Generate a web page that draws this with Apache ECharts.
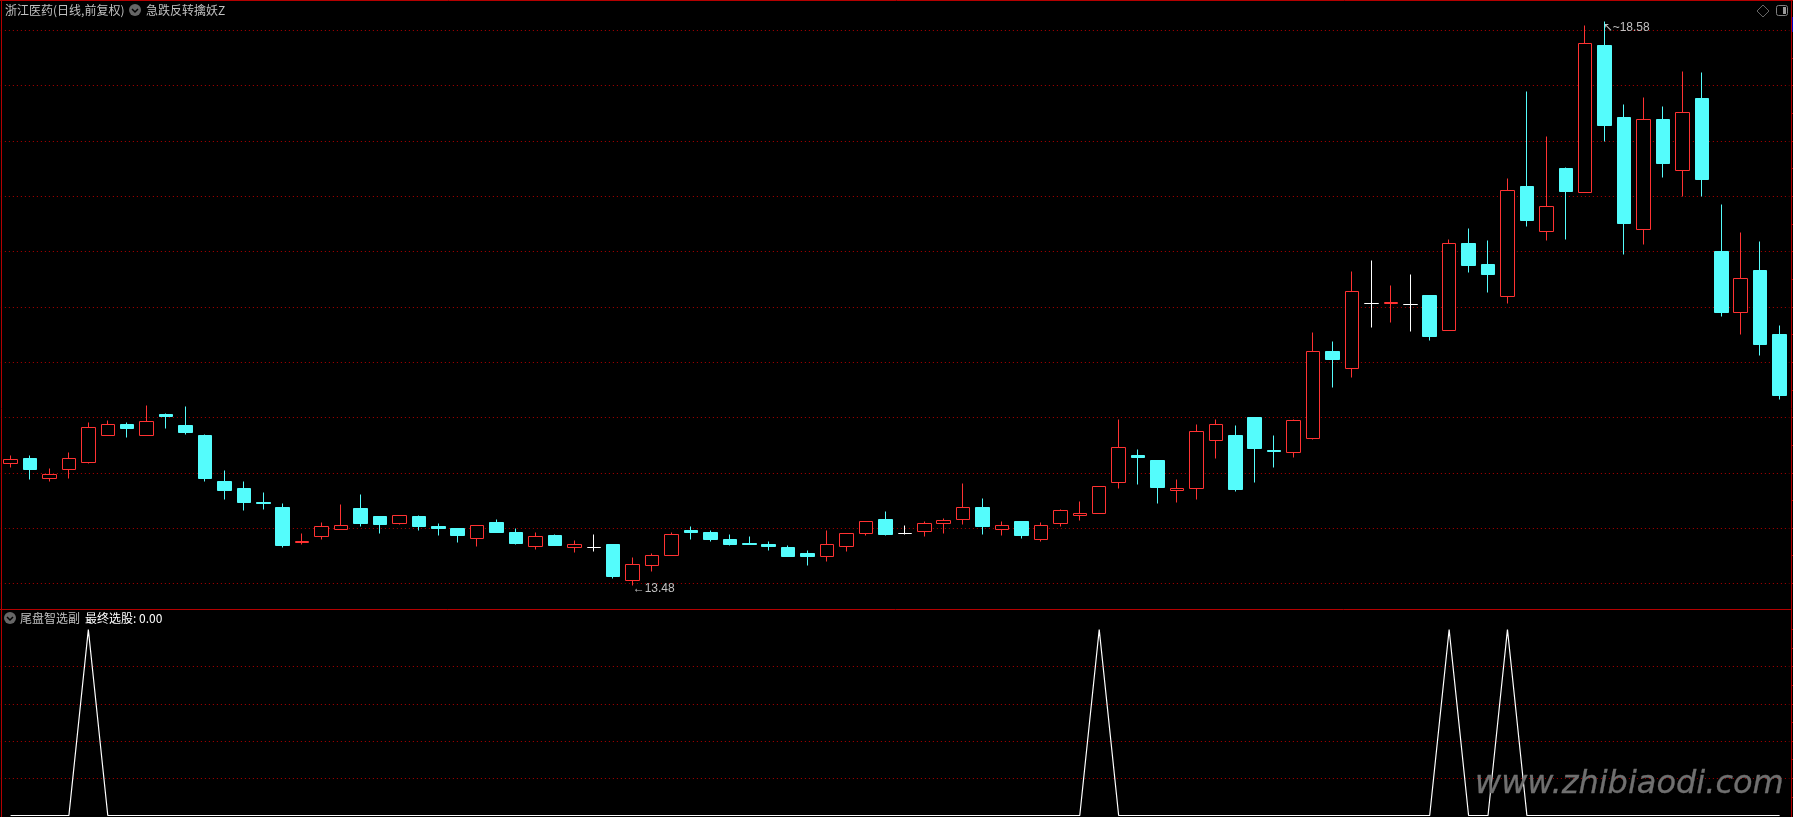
<!DOCTYPE html>
<html>
<head>
<meta charset="utf-8">
<style>html,body{margin:0;padding:0;background:#000;overflow:hidden}#c{width:1793px;height:817px}</style>
<script src="https://cdn.jsdelivr.net/npm/echarts@6/dist/echarts.min.js"></script>
</head>
<body>
<div id="c"></div>
<script>
const opens  = [14.58,14.63,14.45,14.53,14.59,14.84,14.94,14.84,15.03,14.93,14.84,14.42,14.36,14.23,14.19,13.87,13.92,13.99,14.18,14.10,14.04,14.10,14.01,14.00,13.91,14.05,13.96,13.83,13.93,13.82,13.82,13.85,13.53,13.66,13.75,13.98,13.96,13.90,13.86,13.85,13.82,13.77,13.74,13.83,13.95,14.08,13.95,13.97,14.04,14.08,14.19,13.99,14.06,13.90,14.04,14.11,14.13,14.41,14.66,14.61,14.34,14.36,14.79,14.84,15.00,14.70,14.68,14.81,15.60,15.44,16.03,16.03,16.02,16.10,15.79,16.57,16.38,16.09,17.09,16.68,17.25,17.03,18.36,17.71,16.70,17.69,17.23,17.88,16.50,15.95,16.33,15.75];
const closes = [14.62,14.53,14.48,14.63,14.91,14.94,14.90,14.96,15.01,14.86,14.45,14.34,14.23,14.22,13.84,13.88,14.01,14.02,14.04,14.03,14.11,14.01,14.00,13.93,14.02,13.96,13.86,13.92,13.84,13.85,13.82,13.56,13.67,13.75,13.94,13.96,13.90,13.85,13.85,13.83,13.74,13.74,13.85,13.95,14.06,13.94,13.95,14.04,14.07,14.19,14.01,14.02,13.93,14.02,14.16,14.13,14.38,14.73,14.64,14.37,14.36,14.87,14.94,14.35,14.72,14.69,14.97,15.60,15.52,16.14,16.03,16.04,16.02,15.73,16.57,16.37,16.29,17.05,16.78,16.91,17.04,18.38,17.64,16.75,17.69,17.30,17.76,17.15,15.95,16.26,15.66,15.20];
const lows   = [14.55,14.44,14.42,14.45,14.58,14.84,14.82,14.84,14.90,14.85,14.42,14.26,14.16,14.17,13.82,13.85,13.90,13.99,14.01,13.95,14.03,13.98,13.93,13.87,13.83,13.96,13.85,13.81,13.84,13.78,13.79,13.54,13.48,13.61,13.75,13.90,13.88,13.84,13.85,13.80,13.74,13.66,13.70,13.79,13.93,13.93,13.94,13.92,13.95,14.03,13.94,13.93,13.91,13.88,14.01,14.07,14.13,14.36,14.39,14.22,14.23,14.26,14.63,14.33,14.41,14.55,14.64,14.80,15.27,15.36,15.81,15.86,15.78,15.70,15.79,16.31,16.13,16.03,16.73,16.60,16.61,17.03,17.50,16.47,16.56,17.17,17.00,17.00,15.91,15.75,15.56,15.16];
const highs  = [14.66,14.66,14.54,14.68,14.95,14.97,14.95,15.11,15.04,15.10,14.85,14.52,14.42,14.32,14.22,13.95,14.05,14.21,14.30,14.10,14.11,14.11,14.04,14.00,14.02,14.08,14.00,13.96,13.94,13.89,13.94,13.85,13.73,13.77,13.96,14.01,13.98,13.94,13.92,13.88,13.84,13.80,13.98,13.95,14.06,14.15,14.02,14.06,14.09,14.40,14.27,14.06,14.06,14.05,14.17,14.24,14.38,14.98,14.71,14.61,14.44,14.94,14.98,14.93,15.00,14.84,14.98,15.77,15.69,16.32,16.42,16.19,16.29,16.10,16.61,16.71,16.60,17.16,17.95,17.54,17.26,18.54,18.58,17.83,17.89,17.81,18.13,18.12,16.93,16.67,16.59,15.83];
const signal = [0,0,0,0,1,0,0,0,0,0,0,0,0,0,0,0,0,0,0,0,0,0,0,0,0,0,0,0,0,0,0,0,0,0,0,0,0,0,0,0,0,0,0,0,0,0,0,0,0,0,0,0,0,0,0,0,1,0,0,0,0,0,0,0,0,0,0,0,0,0,0,0,0,0,1,0,0,1,0,0,0,0,0,0,0,0,0,0,0,0,0,0];
const categories = opens.map((_, i) => String(i + 1));
const priceGrid = [13.5,14,14.5,15,15.5,16,16.5,17,17.5,18,18.5];
const priceTicks = [13.5,13.75,14,14.25,14.5,14.75,15,15.25,15.5,15.75,16,16.25,16.5,16.75,17,17.25,17.5,17.75,18,18.25,18.5];
const signalGrid = [0.2,0.4,0.6,0.8];
const signalTicks = [0.1,0.2,0.3,0.4,0.5,0.6,0.7,0.8,0.9,1];
const titleStock = '浙江医药(日线,前复权)';
const titleMain = '急跌反转擒妖Z';
const titleSub = '尾盘智选副';
const titleSignal = '最终选股: 0.00';
const highLabel = 18.58, highIndex = 82;
const lowLabel = 13.48, lowIndex = 32;
const watermark = 'www.zhibiaodi.com';

const RED = '#ff3232', CYAN = '#54fcfc', GRID = '#b00000', BORDER = '#b40000', TXT = '#c0c0c0';
const CJK = '"Noto Sans CJK SC","Noto Sans",sans-serif';

// snap candle edges to whole pixel rows so that they stay crisp
echarts.registerLayout(function (ecModel) {
  ecModel.eachSeriesByType('candlestick', function (s) {
    const d = s.getData();
    d.each(function (i) {
      const l = d.getItemLayout(i);
      if (l && l.ends) l.ends.forEach(function (p) { p[1] = Math.floor(p[1]) + 0.5; });
    });
  });
});

const chart = echarts.init(document.getElementById('c'), null, {renderer: 'canvas'});

function vLine(x, y1, y2) { return {type: 'line', silent: true, z: 50, shape: {x1: x, y1: y1, x2: x, y2: y2}, style: {stroke: BORDER, lineWidth: 1}}; }
function hLine(y, x1, x2) { return {type: 'line', silent: true, z: 50, shape: {x1: x1, y1: y, x2: x2, y2: y}, style: {stroke: BORDER, lineWidth: 1}}; }
function label(x, y, text, fill) {
  return {type: 'text', silent: true, z: 60, x: x, y: y, style: {text: text, fill: fill, font: '12px ' + CJK, textVerticalAlign: 'middle', textBaseline: 'middle'}};
}
function badge(cx, cy) {
  return {type: 'group', silent: true, z: 60, children: [
    {type: 'circle', shape: {cx: cx, cy: cy, r: 6}, style: {fill: '#666666'}},
    {type: 'polyline', shape: {points: [[cx - 3, cy - 1], [cx, cy + 2], [cx + 3, cy - 1]]}, style: {stroke: '#000', fill: 'none', lineWidth: 1.5}}
  ]};
}
function gridAxis(gridIndex, min, max, values) {
  return {type: 'value', gridIndex: gridIndex, min: min, max: max, position: 'left',
    axisLabel: {show: false}, axisLine: {show: false},
    axisTick: {show: false, customValues: values},
    splitLine: {show: true, lineStyle: {color: GRID, width: 1, type: [1, 3]}}};
}
function tickAxis(gridIndex, min, max, values) {
  return {type: 'value', gridIndex: gridIndex, min: min, max: max, position: 'right', offset: 2,
    axisLabel: {show: false}, axisLine: {show: false}, splitLine: {show: false},
    axisTick: {show: true, length: 2, lineStyle: {color: BORDER}, customValues: values}};
}
const PRICE_MIN = 13.277, PRICE_MAX = 18.757, SIGNAL_MIN = -0.0027, SIGNAL_MAX = 1.105;

chart.setOption({
  animation: false,
  backgroundColor: '#000',
  grid: [
    {left: 0.86, width: 1788.48, top: 2, height: 606},
    {left: 0.86, width: 1788.48, top: 610, height: 206}
  ],
  xAxis: [
    {type: 'category', gridIndex: 0, data: categories, show: false, boundaryGap: true},
    {type: 'category', gridIndex: 1, data: categories, show: false, boundaryGap: true}
  ],
  yAxis: [
    gridAxis(0, PRICE_MIN, PRICE_MAX, priceGrid),
    tickAxis(0, PRICE_MIN, PRICE_MAX, priceTicks),
    gridAxis(1, SIGNAL_MIN, SIGNAL_MAX, signalGrid),
    tickAxis(1, SIGNAL_MIN, SIGNAL_MAX, signalTicks)
  ],
  series: [
    {
      type: 'candlestick', xAxisIndex: 0, yAxisIndex: 0, z: 5, barWidth: 14,
      data: opens.map((o, i) => [o, closes[i], lows[i], highs[i]]),
      itemStyle: {color: '#000', color0: CYAN, borderColor: RED, borderColor0: CYAN, borderColorDoji: '#ffffff', borderWidth: 1},
      markPoint: {
        silent: true, symbol: 'circle', symbolSize: 0, animation: false,
        data: [
          {coord: [highIndex, highLabel], label: {show: true, position: 'right', distance: 0, offset: [-2, 6], color: TXT, fontSize: 12, fontFamily: 'Liberation Sans', formatter: '↖~' + highLabel.toFixed(2)}},
          {coord: [lowIndex, lowLabel], label: {show: true, position: 'right', distance: 0, offset: [0, 3], color: TXT, fontSize: 12, fontFamily: 'Liberation Sans', formatter: '←' + lowLabel.toFixed(2)}}
        ]
      }
    },
    {
      type: 'line', xAxisIndex: 1, yAxisIndex: 2, z: 5, data: signal, showSymbol: false, smooth: false,
      lineStyle: {color: '#ffffff', width: 1.2}
    }
  ],
  graphic: [
    hLine(0.5, 0, 1793), hLine(609.5, 0, 1791),
    vLine(1.5, 0, 817), vLine(1791.5, 0, 817),
    {type: 'rect', silent: true, z: 51, shape: {x: 1792, y: 17, width: 1, height: 15}, style: {fill: '#0000c0'}},
    label(5, 10, titleStock, TXT), label(146, 10, titleMain, TXT),
    label(20, 618, titleSub, TXT), label(85, 618, titleSignal, '#ffffff'),
    badge(135, 10), badge(10, 618),
    {type: 'polygon', silent: true, z: 60, shape: {points: [[1763, 5], [1769, 11], [1763, 17], [1757, 11]]}, style: {fill: 'none', stroke: '#666666', lineWidth: 1}},
    {type: 'rect', silent: true, z: 60, shape: {x: 1776.5, y: 5.5, width: 11, height: 10, r: 2}, style: {fill: 'none', stroke: '#808080', lineWidth: 1}},
    {type: 'rect', silent: true, z: 60, shape: {x: 1783, y: 7, width: 3, height: 7}, style: {fill: '#999999'}},
    {type: 'text', silent: true, z: 70, x: 1475, y: 801, style: {text: watermark, fill: '#707070', stroke: '#707070', lineWidth: 0.3, font: 'italic 32px "DejaVu Sans"', textBaseline: 'alphabetic', textVerticalAlign: 'bottom', shadowColor: 'rgba(90,90,90,0.6)', shadowBlur: 8, shadowOffsetX: 1, shadowOffsetY: 2}}
  ]
});
</script>
</body>
</html>
